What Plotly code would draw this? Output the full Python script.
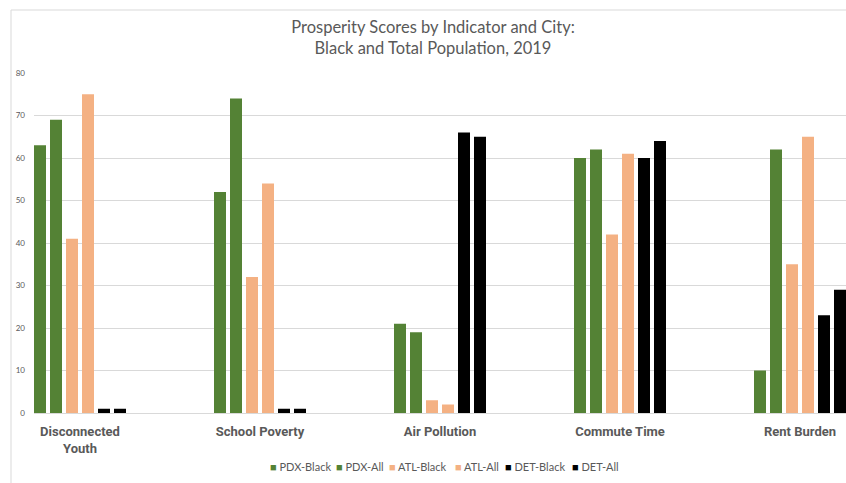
import plotly.graph_objects as go

# Indicators (x categories) and the six city/population series
indicators = ["Disconnected<br>Youth", "School Poverty", "Air Pollution", "Commute Time", "Rent Burden"]
series_names = ["PDX-Black", "PDX-All", "ATL-Black", "ATL-All", "DET-Black", "DET-All"]

pdx_black = [63, 52, 21, 60, 10]
pdx_all = [69, 74, 19, 62, 62]
atl_black = [41, 32, 3, 42, 35]
atl_all = [75, 54, 2, 61, 65]
det_black = [1, 1, 66, 60, 23]
det_all = [1, 1, 65, 64, 29]

y_ticks = [0, 10, 20, 30, 40, 50, 60, 70, 80]

series_values = [pdx_black, pdx_all, atl_black, atl_all, det_black, det_all]
series_colors = ["#548235", "#548235", "#F4B183", "#F4B183", "#000000", "#000000"]

GREY = "#595959"
GRID = "#d9d9d9"
FONT = "Lato, Liberation Sans, Arial, sans-serif"
NARROW = "Liberation Sans Narrow, Arial Narrow, Roboto, Liberation Sans, sans-serif"

W, H = 846, 483
L, R, T, B = 34, 0, 73, 70
plot_w = W - L - R
plot_h = H - T - B

x_pos = list(range(len(indicators)))

fig = go.Figure()
for name, vals, col in zip(series_names, series_values, series_colors):
    fig.add_trace(go.Bar(
        x=x_pos, y=vals, name=name,
        marker=dict(color=col, line=dict(width=0)),
        showlegend=False,
    ))

# compact legend: a coloured square glyph right before each series name,
# one legend box per series so the entries sit close together
legend_left_x = [271, 337, 390, 456, 506, 573]
legend_layout = {}
for i, (name, col) in enumerate(zip(series_names, series_colors)):
    key = "legend" if i == 0 else f"legend{i + 1}"
    fig.add_trace(go.Scatter(
        x=[None], y=[None], mode="markers",
        name=f'<span style="color:{col}">■</span> {name}',
        marker=dict(size=1, color="rgba(0,0,0,0)"),
        legend=key, showlegend=True,
    ))
    legend_layout[key] = dict(
        x=(legend_left_x[i] - 41 - L) / plot_w,
        xanchor="left",
        y=(413 - 467) / plot_h, yanchor="middle",
        orientation="h", itemwidth=30,
        bgcolor="rgba(0,0,0,0)", borderwidth=0,
        font=dict(family=FONT, size=11, color=GREY),
    )

x0 = -46 / 180
x1 = x0 + plot_w / 180

fig.update_layout(
    width=W, height=H,
    margin=dict(l=L, r=R, t=T, b=B),
    paper_bgcolor="white", plot_bgcolor="white",
    barmode="group", bargap=0.4667, bargroupgap=0.25,
    title=dict(
        text="Prosperity Scores by Indicator and City:<br>Black and Total Population, 2019",
        x=(433 - L) / plot_w, xref="paper", xanchor="center",
        y=1 - 33 / H, yref="container", yanchor="top",
        font=dict(family=FONT, size=16.5, color=GREY),
    ),
    xaxis=dict(
        range=[x0, x1], tickvals=x_pos, ticktext=indicators,
        showgrid=False, zeroline=False,
        showline=True, linecolor=GRID, linewidth=1,
        ticks="", ticklabelstandoff=6,
        tickfont=dict(family=NARROW, size=13, color=GREY, weight="bold"),
    ),
    yaxis=dict(
        range=[0, 80], tickvals=y_ticks,
        showgrid=True, gridcolor=GRID, gridwidth=1,
        zeroline=False, showline=False, ticks="",
        ticklabelstandoff=8,
        tickfont=dict(family=FONT, size=8, color=GREY),
    ),
    **legend_layout,
)

# light chart-area frame on the top and left
fx = (11 - L) / plot_w
fy = (413 - 10) / plot_h
fig.add_shape(type="line", xref="paper", yref="paper",
              x0=fx, x1=fx, y0=fy, y1=-(H - 413) / plot_h,
              line=dict(color=GRID, width=1))
fig.add_shape(type="line", xref="paper", yref="paper",
              x0=fx, x1=1.0, y0=fy, y1=fy,
              line=dict(color=GRID, width=1))

fig.write_html("out.html")
